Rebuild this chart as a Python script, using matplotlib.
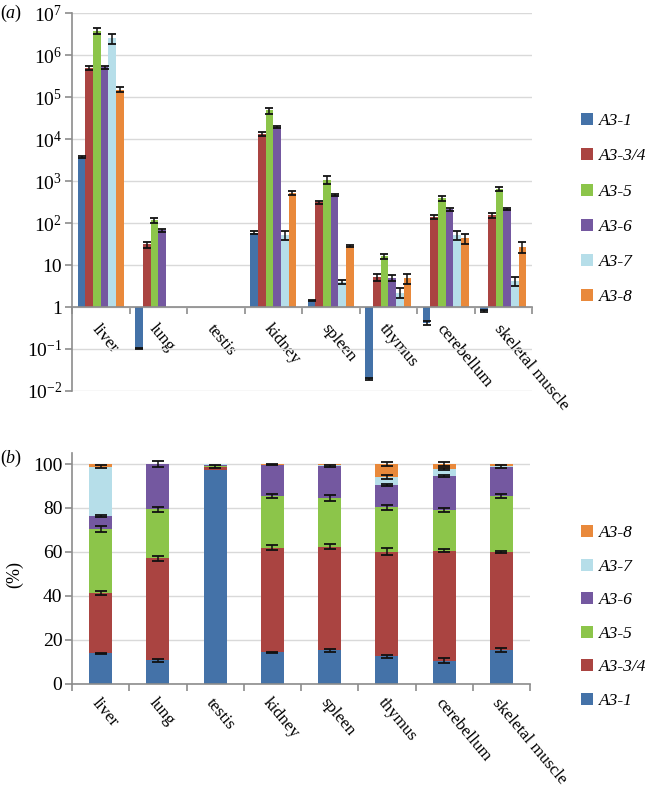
import numpy as np
import matplotlib
matplotlib.use("Agg")
import matplotlib.pyplot as plt
from matplotlib.patches import Patch

plt.rcParams['font.family'] = ['Liberation Serif', 'DejaVu Serif']
plt.rcParams['mathtext.fontset'] = 'custom'
plt.rcParams['mathtext.rm'] = 'Liberation Serif'
plt.rcParams['mathtext.it'] = 'Liberation Serif:italic'

tissues = ['liver', 'lung', 'testis', 'kidney', 'spleen', 'thymus', 'cerebellum', 'skeletal muscle']
isoforms = ['A3-1', 'A3-3/4', 'A3-5', 'A3-6', 'A3-7', 'A3-8']
colors = ['#4472A8', '#AA4441', '#8CC54A', '#7458A0', '#B6DEE9', '#E9893B']

nan = np.nan
# (a) relative expression (testis = 1), one list per isoform, ordered as tissues
rel_a1 = [3700, 0.105, 1, 59, 1.45, 0.019, 0.42, 0.79]
rel_a34 = [4.9e5, 31, 1, 13500, 310, 5.1, 140, 155]
rel_a5 = [3.8e6, 115, 1, 48000, 1080, 16, 390, 650]
rel_a6 = [5.1e5, 67, 1, 19500, 470, 4.9, 210, 215]
rel_a7 = [2.5e6, nan, 1, 52, 3.9, 2.2, 52, 4.2]
rel_a8 = [1.5e5, nan, 1, 520, 29, 4.9, 44, 27]

err_a1 = [150, 0.003, nan, 4, 0.03, 0.001, 0.05, 0.05]
err_a34 = [6e4, 5, nan, 1500, 20, 0.9, 15, 20]
err_a5 = [6e5, 15, nan, 8000, 220, 1.8, 55, 80]
err_a6 = [5e4, 5, nan, 800, 20, 0.8, 15, 8]
err_a7 = [7e5, nan, nan, 12, 0.4, 0.6, 12, 1.1]
err_a8 = [2e4, nan, nan, 60, 1.5, 1.3, 12, 8]

# (b) percentage of each isoform
pct_a1 = [13.9, 10.8, 97.3, 14.4, 15.3, 12.7, 10.6, 15.5]
pct_a34 = [27.6, 46.4, 1.5, 47.6, 47.2, 47.5, 50.0, 44.5]
pct_a5 = [28.9, 22.3, 0.4, 23.5, 21.9, 20.1, 18.5, 25.5]
pct_a6 = [6.0, 20.5, 0.3, 14.1, 14.8, 10.2, 15.6, 13.3]
pct_a7 = [22.4, 0.0, 0.3, 0.1, 0.2, 3.5, 3.0, 0.3]
pct_a8 = [1.2, 0.0, 0.2, 0.3, 0.6, 6.0, 2.3, 0.9]

pct_err1 = [0.3, 0.7, nan, 0.3, 0.6, 0.7, 1.0, 0.8]
pct_err34 = [0.9, 1.2, 0.8, 1.0, 1.0, 1.5, 0.6, 0.5]
pct_err5 = [1.2, 1.1, nan, 0.8, 1.4, 1.2, 0.8, 0.8]
pct_err6 = [0.4, 1.2, nan, 0.2, 0.5, 0.6, 0.4, 0.8]
pct_err7 = [0.8, nan, nan, nan, nan, 0.8, 0.6, nan]
pct_err8 = [nan, nan, nan, nan, nan, 0.8, 0.8, nan]

rel = [rel_a1, rel_a34, rel_a5, rel_a6, rel_a7, rel_a8]
rel_err = [err_a1, err_a34, err_a5, err_a6, err_a7, err_a8]
pct = [pct_a1, pct_a34, pct_a5, pct_a6, pct_a7, pct_a8]
pct_err = [pct_err1, pct_err34, pct_err5, pct_err6, pct_err7, pct_err8]

W, H = 652, 795
fig = plt.figure(figsize=(W / 100, H / 100), dpi=100)
axA = fig.add_axes([72 / W, 1 - 391 / H, 460 / W, (391 - 13) / H])
axB = fig.add_axes([72 / W, 1 - 684 / H, 458 / W, (684 - 453) / H])

grid_c = '#D9D9D9'
spine_c = '#8C8C8C'
x = np.arange(len(tissues))

# ---------- panel (a)
bw = 0.133
axA.set_yscale('log')
for i, (vals, errs, c) in enumerate(zip(rel, rel_err, colors)):
    v = np.array(vals, float)
    e = np.array(errs, float)
    xs = x + (i - 2.5) * bw
    m = ~np.isnan(v)
    axA.bar(xs[m], v[m] - 1, bottom=1, width=bw, color=c, linewidth=0, zorder=2)
    me = m & ~np.isnan(e)
    axA.errorbar(xs[me], v[me], yerr=e[me], fmt='none', ecolor='#111111',
                 elinewidth=1.1, capsize=3, capthick=1.3, zorder=3)
axA.set_ylim(1e-2, 1e7)
axA.set_xlim(-0.5, len(tissues) - 0.5)
yt = [1e-2, 1e-1, 1, 10, 1e2, 1e3, 1e4, 1e5, 1e6, 1e7]
ytl = [r'$\mathregular{10^{-2}}$', r'$\mathregular{10^{-1}}$', '1', '10',
       r'$\mathregular{10^{2}}$', r'$\mathregular{10^{3}}$', r'$\mathregular{10^{4}}$',
       r'$\mathregular{10^{5}}$', r'$\mathregular{10^{6}}$', r'$\mathregular{10^{7}}$']
axA.set_yticks(yt)
axA.set_yticklabels(ytl)
axA.yaxis.set_minor_locator(matplotlib.ticker.NullLocator())
axA.grid(axis='y', color=grid_c, linewidth=1, zorder=0)
axA.set_axisbelow(True)
axA.spines['top'].set_visible(False)
axA.spines['right'].set_visible(False)
axA.spines['bottom'].set_position(('data', 1))
for s in ['left', 'bottom']:
    axA.spines[s].set_color(spine_c)
    axA.spines[s].set_linewidth(1.2)
axA.tick_params(axis='y', which='major', length=5, width=1.2, color=spine_c, labelsize=14, pad=2)

# ---------- panel (b)
bottoms = np.zeros(len(tissues))
for i, (vals, errs, c) in enumerate(zip(pct, pct_err, colors)):
    v = np.array(vals, float)
    axB.bar(x, v, bottom=bottoms, width=0.4, color=c, linewidth=0, zorder=2)
    top = bottoms + v
    e = np.array(errs, float)
    me = ~np.isnan(e)
    axB.errorbar(x[me], top[me], yerr=e[me], fmt='none', ecolor='#111111',
                 elinewidth=1.1, capsize=4, capthick=1.3, zorder=3)
    bottoms = top
axB.set_ylim(0, 105)
axB.set_xlim(-0.5, len(tissues) - 0.5)
axB.set_yticks([0, 20, 40, 60, 80, 100])
axB.grid(axis='y', color=grid_c, linewidth=1, zorder=0)
axB.set_axisbelow(True)
axB.spines['top'].set_visible(False)
axB.spines['right'].set_visible(False)
for s in ['left', 'bottom']:
    axB.spines[s].set_color(spine_c)
    axB.spines[s].set_linewidth(1.2)
axB.tick_params(axis='y', which='major', length=5, width=1.2, color=spine_c, labelsize=14, pad=2)

# category axes
for ax, pad in [(axA, 10), (axB, 8)]:
    ax.set_xticks(x)
    ax.set_xticklabels(tissues, rotation=-50, ha='left', va='top', rotation_mode='anchor', fontsize=12.5)
    ax.set_xticks(np.arange(len(tissues) + 1) - 0.5, minor=True)
    ax.tick_params(axis='x', which='major', length=0, pad=pad)
    ax.tick_params(axis='x', which='minor', length=5, width=1.2, color=spine_c, direction='out')

# legends
hA = [Patch(facecolor=c, edgecolor='none') for c in colors]
leg_kw = dict(loc='upper left', frameon=False, prop={'style': 'italic', 'size': 12.5},
              handlelength=0.7, handleheight=0.7, handletextpad=0.35,
              borderpad=0, borderaxespad=0)
fig.legend(hA, isoforms, bbox_to_anchor=(581 / W, 1 - 113 / H), labelspacing=1.1, **leg_kw)
fig.legend(hA[::-1], isoforms[::-1], bbox_to_anchor=(581 / W, 1 - 525 / H), labelspacing=1.0, **leg_kw)

fig.text(0.0, 1 - 13 / H, r'($a$)', fontsize=13, va='center', ha='left')
fig.text(0.0, 1 - 458 / H, r'($b$)', fontsize=13, va='center', ha='left')
fig.text(15 / W, 1 - 575 / H, '(%)', fontsize=13, rotation=90, va='center', ha='center')

fig.savefig('out.png', dpi=100)
